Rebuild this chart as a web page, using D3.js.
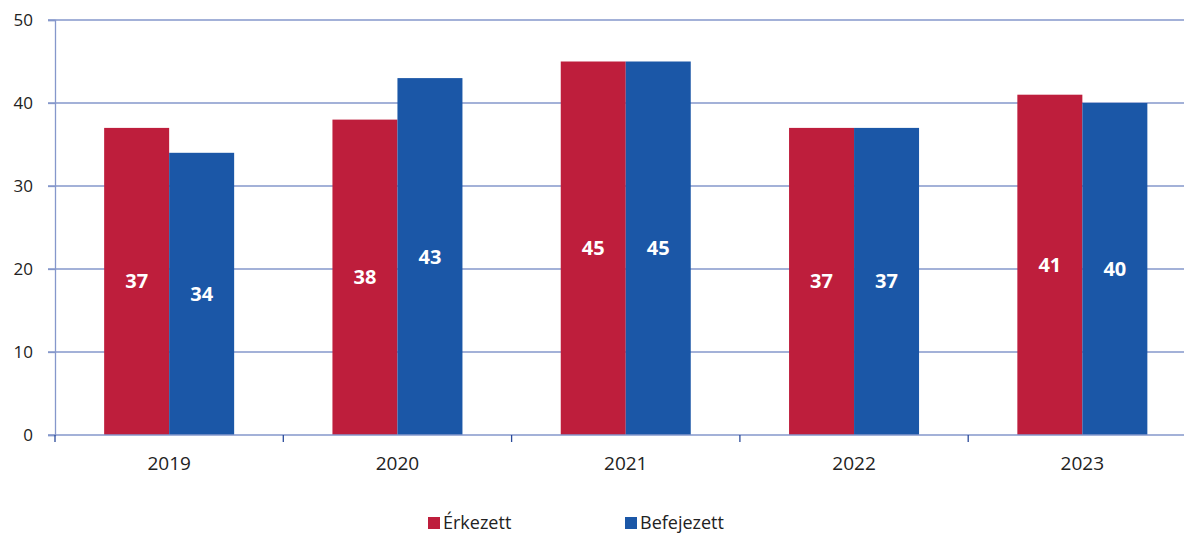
<!DOCTYPE html>
<html><head><meta charset="utf-8">
<script src="https://cdn.jsdelivr.net/npm/d3@7"></script>
<style>body{margin:0;background:#fff}svg{display:block}</style>
</head><body>
<script>
const years = ["2019","2020","2021","2022","2023"];
const seriesNames = ["Érkezett","Befejezett"];
const erkezett = [37,38,45,37,41];
const befejezett = [34,43,45,37,40];
const yTicks = [0,10,20,30,40,50];
const colors = ["#BE1E3C","#1B57A7"];

const W = 1184, H = 534;
const svg = d3.select("body").append("svg").attr("width",W).attr("height",H);
const font = "'Open Sans', 'Noto Sans', sans-serif";
const left = 55, bandW = 228.3;
const x = d3.scaleBand().domain(years).range([left, left + bandW*years.length]).paddingInner(0).paddingOuter(0);
const x1 = d3.scaleBand().domain(seriesNames).range([0, 130]);
const y = d3.scaleLinear().domain([0,50]).range([435,20]);
const gridColor = "#8597CB";

// gridlines
svg.append("g").selectAll("line").data(yTicks.filter(d=>d>0)).join("line")
  .attr("x1",left-7).attr("x2",W).attr("y1",d=>y(d)).attr("y2",d=>y(d))
  .attr("stroke",gridColor).attr("stroke-width",1.3);

const data = years.map((yr,i)=>({yr, vals:[erkezett[i], befejezett[i]]}));
const groups = svg.append("g").selectAll("g").data(data).join("g")
  .attr("transform",d=>`translate(${x(d.yr) + (x.bandwidth()-130)/2},0)`);
groups.selectAll("rect").data(d=>d.vals.map((v,j)=>({v,j}))).join("rect")
  .attr("x",d=>x1(seriesNames[d.j])).attr("width",x1.bandwidth())
  .attr("y",d=>y(d.v)).attr("height",d=>y(0)-y(d.v))
  .attr("fill",d=>colors[d.j]);
groups.selectAll("text").data(d=>d.vals.map((v,j)=>({v,j}))).join("text")
  .attr("x",d=>x1(seriesNames[d.j]) + x1.bandwidth()/2)
  .attr("y",d=>y(d.v/2)).attr("dy","0.35em")
  .attr("text-anchor","middle").attr("fill","#fff")
  .attr("font-family",font).attr("font-weight","bold").attr("font-size",20)
  .text(d=>d.v);

// y axis
const yAxis = svg.append("g").attr("transform",`translate(${left},0)`)
  .call(d3.axisLeft(y).tickValues(yTicks).tickSize(7).tickPadding(15));
yAxis.select(".domain").attr("stroke",gridColor).attr("stroke-width",1.3);
yAxis.selectAll(".tick line").attr("stroke",gridColor).attr("stroke-width",1.3);
yAxis.selectAll("text").attr("font-family",font).attr("font-size",17).attr("fill","#222");

// x axis
const xAxis = svg.append("g").attr("transform",`translate(0,${y(0)})`)
  .call(d3.axisBottom(x).tickSize(0).tickPadding(22));
xAxis.select(".domain").remove();
xAxis.selectAll("text").attr("font-family",font).attr("font-size",19).attr("fill","#222");
svg.append("line").attr("x1",left-7).attr("x2",W).attr("y1",y(0)).attr("y2",y(0))
  .attr("stroke",gridColor).attr("stroke-width",1.3);
const bounds = d3.range(years.length+1).map(i=>left + i*x.step());
svg.append("g").selectAll("line").data(bounds).join("line")
  .attr("x1",d=>d).attr("x2",d=>d).attr("y1",y(0)).attr("y2",y(0)+7)
  .attr("stroke","#2a4a9a").attr("stroke-width",1.3);

// legend
const legX = [428, 625];
const leg = svg.append("g").selectAll("g").data(seriesNames).join("g")
  .attr("transform",(d,i)=>`translate(${legX[i]},517)`);
leg.append("rect").attr("width",12).attr("height",12).attr("fill",(d,i)=>colors[i]);
leg.append("text").attr("x",15).attr("y",6).attr("dy","0.35em")
  .attr("font-family",font).attr("font-size",18).attr("fill","#222").text(d=>d);
</script>
</body></html>
